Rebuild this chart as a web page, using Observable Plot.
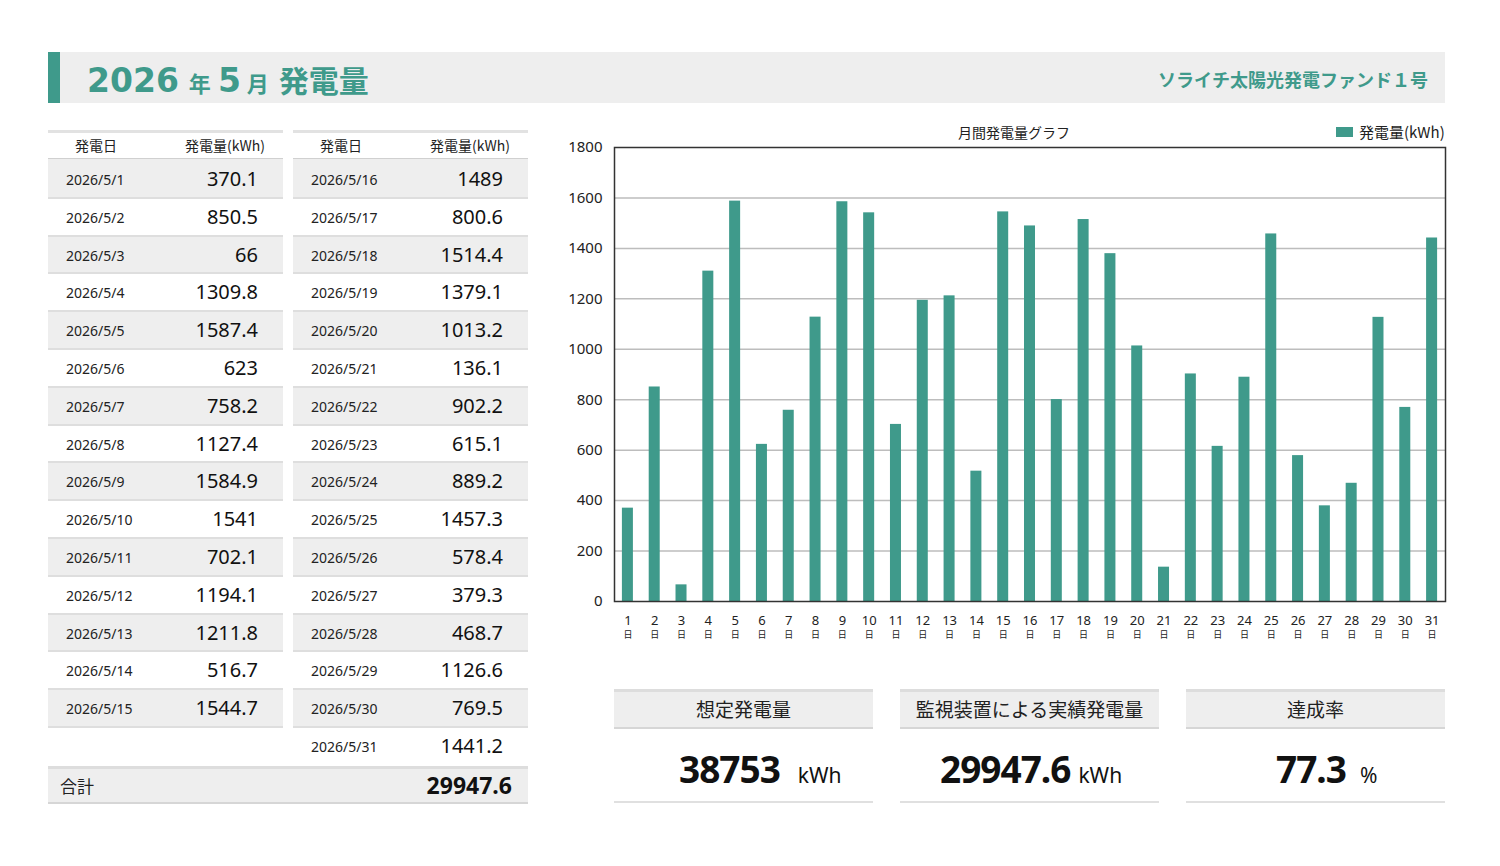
<!DOCTYPE html>
<html>
<head>
<meta charset="utf-8">
<script src="https://cdn.jsdelivr.net/npm/d3@7"></script>
<script src="https://cdn.jsdelivr.net/npm/@observablehq/plot@0.6"></script>
<style>
  html, body { margin: 0; padding: 0; background: #fff; }
  body { font-family: "Noto Sans", "Noto Sans CJK JP", sans-serif; color: #222; }
  #page { position: relative; width: 1500px; height: 866px; overflow: hidden; }
  .abs { position: absolute; }
  .hdr { left: 48px; top: 52px; width: 1397px; height: 51px; background: #eeeeee; }
  .accent { left: 48px; top: 52px; width: 12px; height: 51px; background: #3f9a8b; }
  .title { left: 87px; top: 57px; color: #3f9a8b; font-family: "Noto Sans CJK JP", sans-serif; font-weight: 700; white-space: nowrap; }
  .title .big { font-size: 33px; font-family: "DejaVu Sans", sans-serif; font-weight: 700; }
  .title .mid { font-size: 22px; }
  .title .kan { font-size: 30px; }
  .fund { right: 72px; top: 66px; color: #3f9a8b; font-family: "Noto Sans CJK JP", sans-serif; font-weight: 700; font-size: 18px; white-space: nowrap; }
  .cell { position: absolute; white-space: nowrap; }
  .th { font-family: "Noto Sans CJK JP", sans-serif; font-size: 14px; color: #222; }
  .date { font-size: 14px; color: #222; }
  .val { font-size: 20px; color: #111; text-align: right; }
  .row { position: absolute; box-sizing: border-box; border-top: 2px solid #dcdcdc; }
  .kh { position: absolute; box-sizing: border-box; top: 689px; height: 40px; background: #eeeeee; border-top: 3px solid #dddddd; border-bottom: 2px solid #d6d6d6; font-family: "Noto Sans CJK JP", sans-serif; font-size: 19px; text-align: center; line-height: 34px; color: #222; }
  .kv { position: absolute; top: 743px; white-space: nowrap; color: #111; }
  .kv b { font-size: 37px; font-weight: 700; letter-spacing: -1px; }
  .kv span { font-size: 21px; }
  .kl { position: absolute; top: 801px; height: 2px; background: #e0e0e0; }
  .ctitle { left: 914px; width: 200px; top: 122px; text-align: center; font-family: "Noto Sans CJK JP", sans-serif; font-size: 14px; color: #222; }
  .lsw { left: 1336px; top: 127px; width: 17px; height: 10px; background: #3f9a8b; }
  .ltx { left: 1359px; top: 121px; font-family: "Noto Sans CJK JP", sans-serif; font-size: 15px; color: #222; white-space: nowrap; }
  #chart { position: absolute; left: 560px; top: 115px; }
</style>
</head>
<body>
<div id="page">
  <div class="abs hdr"></div>
  <div class="abs accent"></div>
  <div class="abs title"><span class="big">2026</span><span class="mid" style="margin-left:10px">年</span><span class="big" style="margin-left:7px">5</span><span class="mid" style="margin-left:6px">月</span><span class="kan" style="margin-left:10px">発電量</span></div>
  <div class="abs fund">ソライチ太陽光発電ファンド１号</div>
  <div class="abs ctitle">月間発電量グラフ</div>
  <div class="abs lsw"></div>
  <div class="abs ltx">発電量(kWh)</div>
  <div id="chart"></div>
</div>
<script>
// ---- data ----
const year = 2026;
const month = 5;
const days = [1,2,3,4,5,6,7,8,9,10,11,12,13,14,15,16,17,18,19,20,21,22,23,24,25,26,27,28,29,30,31];
const dailyKWh = ["370.1","850.5","66","1309.8","1587.4","623","758.2","1127.4","1584.9","1541","702.1","1194.1","1211.8","516.7","1544.7","1489","800.6","1514.4","1379.1","1013.2","136.1","902.2","615.1","889.2","1457.3","578.4","379.3","468.7","1126.6","769.5","1441.2"];
const yTicks = [0,200,400,600,800,1000,1200,1400,1600,1800];
const totalLabel = "合計";
const totalKWh = "29947.6";
const kpiLabels = ["想定発電量","監視装置による実績発電量","達成率"];
const kpiValues = ["38753","29947.6","77.3"];
const kpiUnits = ["kWh","kWh","%"];
const colHeaders = ["発電日","発電量(kWh)"];

const page = document.getElementById("page");
function el(cls, style, text) {
  const d = document.createElement("div");
  d.className = cls;
  Object.assign(d.style, style);
  if (text != null) d.textContent = text;
  page.appendChild(d);
  return d;
}

// ---- tables ----
const tables = [
  {x: 48, rows: days.slice(0, 15).map((d, i) => ({d, v: dailyKWh[i]})).concat([null])},
  {x: 293, rows: days.slice(15).map((d, i) => ({d, v: dailyKWh[15 + i]}))}
];
const tw = 235, rowH = 37.8, row0 = 160;
tables.forEach(t => {
  el("row", {left: t.x + "px", top: "130px", width: tw + "px", height: "30px", borderTop: "3px solid #e2e2e2", borderBottom: "2px solid #d0d0d0"});
  el("cell th", {left: t.x + "px", width: "96px", top: "135px", textAlign: "center"}, colHeaders[0]);
  el("cell th", {left: (t.x + 118) + "px", width: "118px", top: "135px", textAlign: "center"}, colHeaders[1]);
  t.rows.forEach((r, i) => {
    const top = row0 + i * rowH;
    el("row", {left: t.x + "px", top: (top - 1) + "px", width: tw + "px", height: (rowH + 1) + "px", background: i % 2 === 0 ? "#eeeeee" : "#ffffff", borderTop: i === 0 ? "none" : "2px solid #dedede"});
    if (r) {
      el("cell date", {left: (t.x + 18) + "px", top: (top + 10) + "px"}, `${year}/${month}/${r.d}`);
      el("cell val", {left: (t.x + 100) + "px", width: "110px", top: (top + 5) + "px"}, r.v);
    }
  });
});
el("row", {left: "48px", top: "766px", width: "480px", height: "38px", background: "#eeeeee", borderTop: "3px solid #dddddd", borderBottom: "2px solid #d6d6d6"});
el("cell th", {left: "60px", top: "773px", fontSize: "17px"}, totalLabel);
el("cell", {left: "380px", width: "132px", top: "769px", textAlign: "right", fontSize: "23px", fontWeight: "700", color: "#111"}, totalKWh);

// ---- KPI boxes ----
const kx = [614, 900, 1186], kw = 259;
const numLeft = [679, 940, 1276];
const unitGap = [18, 8, 14];
kpiLabels.forEach((l, i) => {
  el("kh", {left: kx[i] + "px", width: kw + "px"}, l);
  const v = el("kv", {left: numLeft[i] + "px"});
  v.innerHTML = `<b>${kpiValues[i]}</b><span style="margin-left:${unitGap[i]}px">${kpiUnits[i]}</span>`;
  el("kl", {left: kx[i] + "px", width: kw + "px"});
});

// ---- chart ----
const data = days.map((d, i) => ({day: d, kwh: +dailyKWh[i]}));
const chart = Plot.plot({
  width: 895,
  height: 535,
  marginLeft: 54,
  marginRight: 10,
  marginTop: 32,
  marginBottom: 49,
  style: {fontFamily: "'Noto Sans', 'Noto Sans CJK JP', sans-serif", color: "#222", background: "transparent", overflow: "visible"},
  x: {domain: days, padding: 0, round: false, label: null},
  y: {domain: [0, 1800], label: null},
  marks: [
    Plot.gridY(yTicks.filter(v => v > 0 && v < 1800), {stroke: "#bdbdbd", strokeOpacity: 1, strokeWidth: 1.5}),
    Plot.barY(data, {x: "day", y: "kwh", fill: "#3f9a8b", insetLeft: 7.9, insetRight: 7.9}),
    Plot.frame({stroke: "#333", strokeWidth: 1.5}),
    Plot.axisY(yTicks, {tickSize: 0, tickPadding: 12, fontSize: 15, tickFormat: d => String(d), label: null}),
    Plot.axisX({tickSize: 0, tickPadding: 14, fontSize: 13, label: null}),
    Plot.axisX({tickSize: 0, tickPadding: 30, fontSize: 9, tickFormat: () => "日", label: null, fontFamily: "'Noto Sans CJK JP', sans-serif"})
  ]
});
document.getElementById("chart").appendChild(chart);
</script>
</body>
</html>
